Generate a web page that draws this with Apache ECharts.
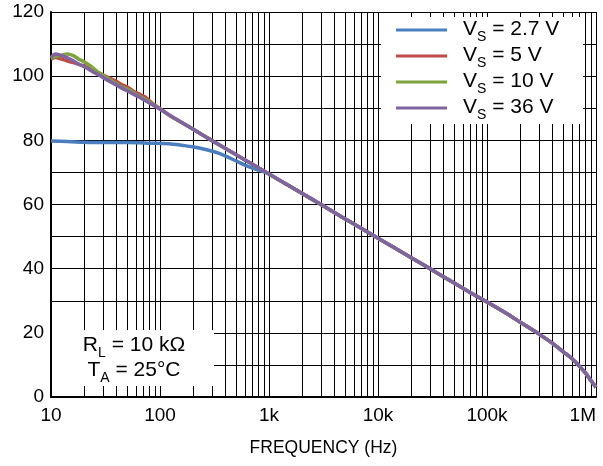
<!DOCTYPE html>
<html>
<head>
<meta charset="utf-8">
<script src="https://cdn.jsdelivr.net/npm/echarts@6/dist/echarts.min.js"></script>
<style>
html,body{margin:0;padding:0;background:#fff;}
#chart{width:603px;height:466px;}
</style>
</head>
<body>
<div id="chart"></div>
<script>
// ---- data ----
const seriesNames = ['V_S = 2.7 V', 'V_S = 5 V', 'V_S = 10 V', 'V_S = 36 V'];
const seriesLabels = ['2.7 V', '5 V', '10 V', '36 V'];
const seriesColors = ['#4A7EBF', '#BE4B48', '#7EA23C', '#8064A2'];

// low-frequency part, V_S = 2.7 V
const freqBlueLow = [10, 14, 20, 30, 50, 81, 120, 163, 200, 250, 331, 400, 504, 600, 771, 900];
const gain27Low  = [79.8, 79.6, 79.4, 79.3, 79.3, 79.1, 78.9, 78.4, 78.0, 77.3, 76.2, 75.1, 73.5, 72.3, 70.9, 70.2];

// low-frequency part, V_S = 5 / 10 / 36 V
const freqUpperLow = [10, 11, 12.5, 14, 16, 18, 20, 22.5, 25, 28, 32, 36, 40, 45, 51, 57, 64, 73, 82, 96];
const gain5Low  = [105.3, 105.8, 105.3, 104.8, 104.2, 103.7, 103.2, 102.5, 101.7, 100.9, 99.9, 99.1, 98.3, 97.3, 96.5, 95.3, 94.5, 93.5, 92.0, 90.3];
const gain10Low = [105.5, 106.2, 106.5, 106.9, 106.4, 105.3, 104.5, 103.4, 102.2, 100.9, 99.6, 98.5, 97.6, 96.6, 95.9, 94.8, 93.8, 92.8, 91.7, 90.2];
const gain36Low = [105.8, 106.9, 106.4, 105.8, 104.8, 103.7, 103.0, 102.0, 101.1, 100.2, 99.0, 98.0, 97.2, 96.2, 95.3, 94.4, 93.5, 92.4, 91.4, 90.1];

// mid part shared by V_S = 5 / 10 / 36 V
const freqMid = [120, 150, 200, 250, 330, 500, 700];
const gainMid = [88.0, 86.0, 83.5, 81.5, 79.1, 75.5, 72.6];

// high-frequency part shared by all curves
const freqHigh = [1000, 1500, 2000, 3000, 5000, 7000, 10000, 20000, 30000, 50000, 70000, 100000, 150000, 200000, 300000, 400000, 500000, 600000, 700000, 800000, 900000, 1000000];
const gainHigh = [69.5, 66.0, 63.5, 60.0, 55.5, 52.6, 49.5, 43.5, 40.0, 35.5, 32.6, 29.6, 26.1, 23.4, 19.6, 16.7, 14.1, 12.0, 9.7, 7.5, 5.1, 3.0];

// axes
const xTickValues = [10, 100, 1000, 10000, 100000, 1000000];
const xTickLabels = ['10', '100', '1k', '10k', '100k', '1M'];
const yTickLabels = ['0', '20', '40', '60', '80', '100', '120'];
const minorMultipliers = [2, 3, 4, 5, 6, 7, 8, 9];

function pairs(f, g) { return f.map((v, i) => [v, g[i]]); }

const curves = [
  pairs(freqBlueLow, gain27Low).concat(pairs(freqHigh, gainHigh)),
  pairs(freqUpperLow, gain5Low).concat(pairs(freqMid, gainMid), pairs(freqHigh, gainHigh)),
  pairs(freqUpperLow, gain10Low).concat(pairs(freqMid, gainMid), pairs(freqHigh, gainHigh)),
  pairs(freqUpperLow, gain36Low).concat(pairs(freqMid, gainMid), pairs(freqHigh, gainHigh))
];

// minor vertical grid lines (2..9 in each decade)
const minorGrid = [];
xTickValues.slice(0, -1).forEach(d => minorMultipliers.forEach(m => minorGrid.push({ xAxis: d * m })));

const FONT = 'Liberation Sans, Arial, Helvetica, sans-serif';
const richText = {
  g: { width: 11 },
  a: { fontSize: 21, fontFamily: FONT, color: '#000', lineHeight: 22, verticalAlign: 'top' },
  s: { fontSize: 14, fontFamily: FONT, color: '#000', lineHeight: 14, verticalAlign: 'top', padding: [11, 0, 0, 0] }
};

const chart = echarts.init(document.getElementById('chart'), null, { renderer: 'canvas' });

const series = [{
  type: 'line',
  name: '_grid',
  data: [],
  silent: true,
  z: 1,
  markLine: {
    silent: true,
    z: 1,
    symbol: ['none', 'none'],
    label: { show: false },
    animation: false,
    lineStyle: { color: '#000', width: 1, type: 'solid' },
    emphasis: { disabled: true },
    data: minorGrid
  }
}].concat(curves.map((d, i) => ({
  type: 'line',
  name: seriesNames[i],
  data: d,
  showSymbol: false,
  symbol: 'none',
  smooth: 0.3,
  z: 2 + i,
  lineStyle: { color: seriesColors[i], width: 3.5 },
  itemStyle: { color: seriesColors[i] }
})));

chart.setOption({
  animation: false,
  backgroundColor: '#fff',
  grid: { left: 51, right: 7, top: 12, bottom: 69, containLabel: false },
  xAxis: {
    type: 'log',
    logBase: 10,
    min: 10,
    max: 1000000,
    name: 'FREQUENCY (Hz)',
    nameLocation: 'middle',
    nameGap: 42,
    nameTextStyle: { fontSize: 17.5, fontFamily: FONT, color: '#000' },
    axisLine: { show: true, lineStyle: { color: '#000', width: 2 } },
    axisTick: { show: false },
    axisLabel: {
      fontSize: 19, fontFamily: FONT, color: '#000', margin: 9,
      alignMaxLabel: 'right',
      formatter: v => {
        const idx = xTickValues.findIndex(t => Math.abs(Math.log10(t) - Math.log10(v)) < 1e-6);
        return idx >= 0 ? xTickLabels[idx] : '';
      }
    },
    splitLine: { show: true, lineStyle: { color: '#000', width: 1 } }
  },
  yAxis: {
    type: 'value',
    min: 0,
    max: 120,
    interval: 10,
    axisLine: { show: true, lineStyle: { color: '#000', width: 2 } },
    axisTick: { show: false },
    axisLabel: {
      fontSize: 19, fontFamily: FONT, color: '#000', margin: 7,
      formatter: v => (yTickLabels.indexOf(String(v)) >= 0 ? String(v) : '')
    },
    splitLine: { show: true, lineStyle: { color: '#000', width: 1 } }
  },
  legend: {
    data: seriesNames,
    orient: 'vertical',
    left: 396,
    top: 19,
    padding: 0,
    itemGap: 1,
    itemWidth: 51,
    itemHeight: 3,
    icon: 'rect',
    selectedMode: false,
    z: 10,
    textStyle: { rich: richText },
    formatter: name => '{g|}{a|V}{s|S}{a| = ' + seriesLabels[seriesNames.indexOf(name)] + '}'
  },
  graphic: [
    { type: 'rect', z: 8, shape: { x: 381, y: 17, width: 202, height: 107 }, style: { fill: '#fff' }, silent: true },
    { type: 'rect', z: 8, shape: { x: 52, y: 330, width: 162, height: 56 }, style: { fill: '#fff' }, silent: true },
    { type: 'text', z: 9, x: 134, y: 346, silent: true,
      style: { text: '{a|R}{s|L}{a| = 10 kΩ}', align: 'center', verticalAlign: 'middle', rich: richText } },
    { type: 'text', z: 9, x: 134, y: 371, silent: true,
      style: { text: '{a|T}{s|A}{a| = 25°C}', align: 'center', verticalAlign: 'middle', rich: richText } }
  ],
  series: series
});
</script>
</body>
</html>
